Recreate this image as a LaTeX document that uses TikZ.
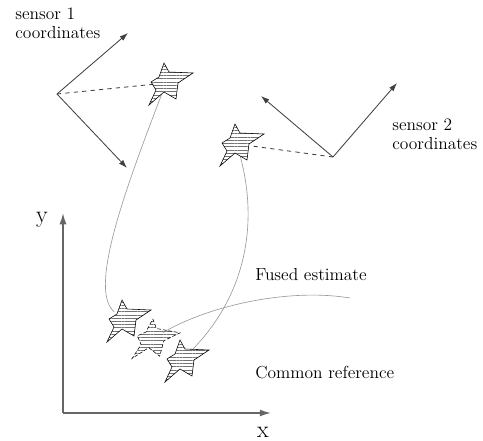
\documentclass[tikz,border=0pt]{standalone}
\usepackage{tikz}
\usetikzlibrary{
  positioning,
  arrows.meta,
  shapes.geometric,
  patterns.meta
}

\begin{document}
\begin{tikzpicture}[
  x=0.025cm, y=-0.025cm,
  font=\fontsize{12.4}{13.5}\selectfont,
  label/.style={
    inner sep=0pt,
    align=left
  },
  axislabel/.style={
    inner sep=0pt,
    font=\fontsize{17}{17}\selectfont
  },
  spot/.style={
    circle,
    minimum size=0.62cm,
    inner sep=0pt
  },
  blipline/.style={
    draw=black,
    line width=0.4pt,
    line join=miter,
    pattern={Lines[distance=2.3pt, line width=0.45pt]},
    pattern color=black!55
  },
  pics/blip/.style={
    code={
      \draw[blipline, #1] (-2,-20) -- (3,-11) -- (27,-10) -- (12,0)
        -- (10,16) -- (-2,9) -- (-17,22) -- (-10,7) -- (-15,-1)
        -- (-7,-6) -- cycle;
    }
  },
  frame/.style={
    -{Latex[length=6pt, width=4pt]},
    line width=0.6pt,
    draw=black!75
  },
  axis/.style={
    -{Latex[length=8pt, width=5pt]},
    line width=1.1pt,
    draw=black!60
  },
  sight/.style={
    dashed,
    line width=0.6pt,
    draw=black!75
  },
  track/.style={
    line width=0.45pt,
    draw=black!40
  }
]
\useasboundingbox (0,0) rectangle (483,441);

% Sensor 1 frame
\coordinate (s1) at (57,94);
\coordinate (s1u) at (128,33);
\coordinate (s1d) at (127,168);
\node[label, anchor=north west] (s1txt) at (15,8) {sensor 1\\coordinates};

% Sensor 2 frame
\coordinate (s2) at (333,157);
\coordinate (s2l) at (261,96);
\coordinate (s2r) at (397,83);
\node[label, anchor=north west] (s2txt) at (392,119) {sensor 2\\coordinates};

% Targets seen by each sensor
\node[spot] (st1) at (166,83) {};
\node[spot] (st2) at (237,144) {};

% Common reference frame
\coordinate (o) at (63,413);
\coordinate (yend) at (63,213);
\coordinate (xend) at (271,413);
\node[axislabel] (ylab) at (42,220) {y};
\node[axislabel] (xlab) at (263,432) {x};

% Mapped targets and fused estimate
\node[spot] (fa) at (124,320) {};
\node[spot] (fb) at (152,339) {};
\node[spot] (fc) at (182,360) {};
\coordinate (fe) at (350,298);

\node[label, anchor=base west] (fus) at (255,280) {Fused estimate};
\node[label, anchor=base west] (com) at (255,378) {Common reference};

% Frames and axes
\draw[frame] (s1) -- (s1u);
\draw[frame] (s1) -- (s1d);
\draw[frame] (s2) -- (s2l);
\draw[frame] (s2) -- (s2r);
\draw[axis] (o) -- (yend);
\draw[axis] (o) -- (xend);

% Lines of sight
\draw[sight] (s1) -- (st1);
\draw[sight] (s2) -- (st2);

% Transformations into the common frame
\draw[track] (st1) .. controls (125,190) and (88,290) .. (fa);
\draw[track] (st2) .. controls (260,230) and (242,300) .. (fc);
\draw[track] (fb) .. controls (210,305) and (290,288) .. (fe);

% Stars
\pic at (st1) {blip};
\pic at (st2) {blip};
\pic at (fa) {blip};
\pic[rotate=-8] at (fb) {blip={dash pattern=on 2.5pt off 1.5pt}};
\pic at (fc) {blip};

\end{tikzpicture}
\end{document}
